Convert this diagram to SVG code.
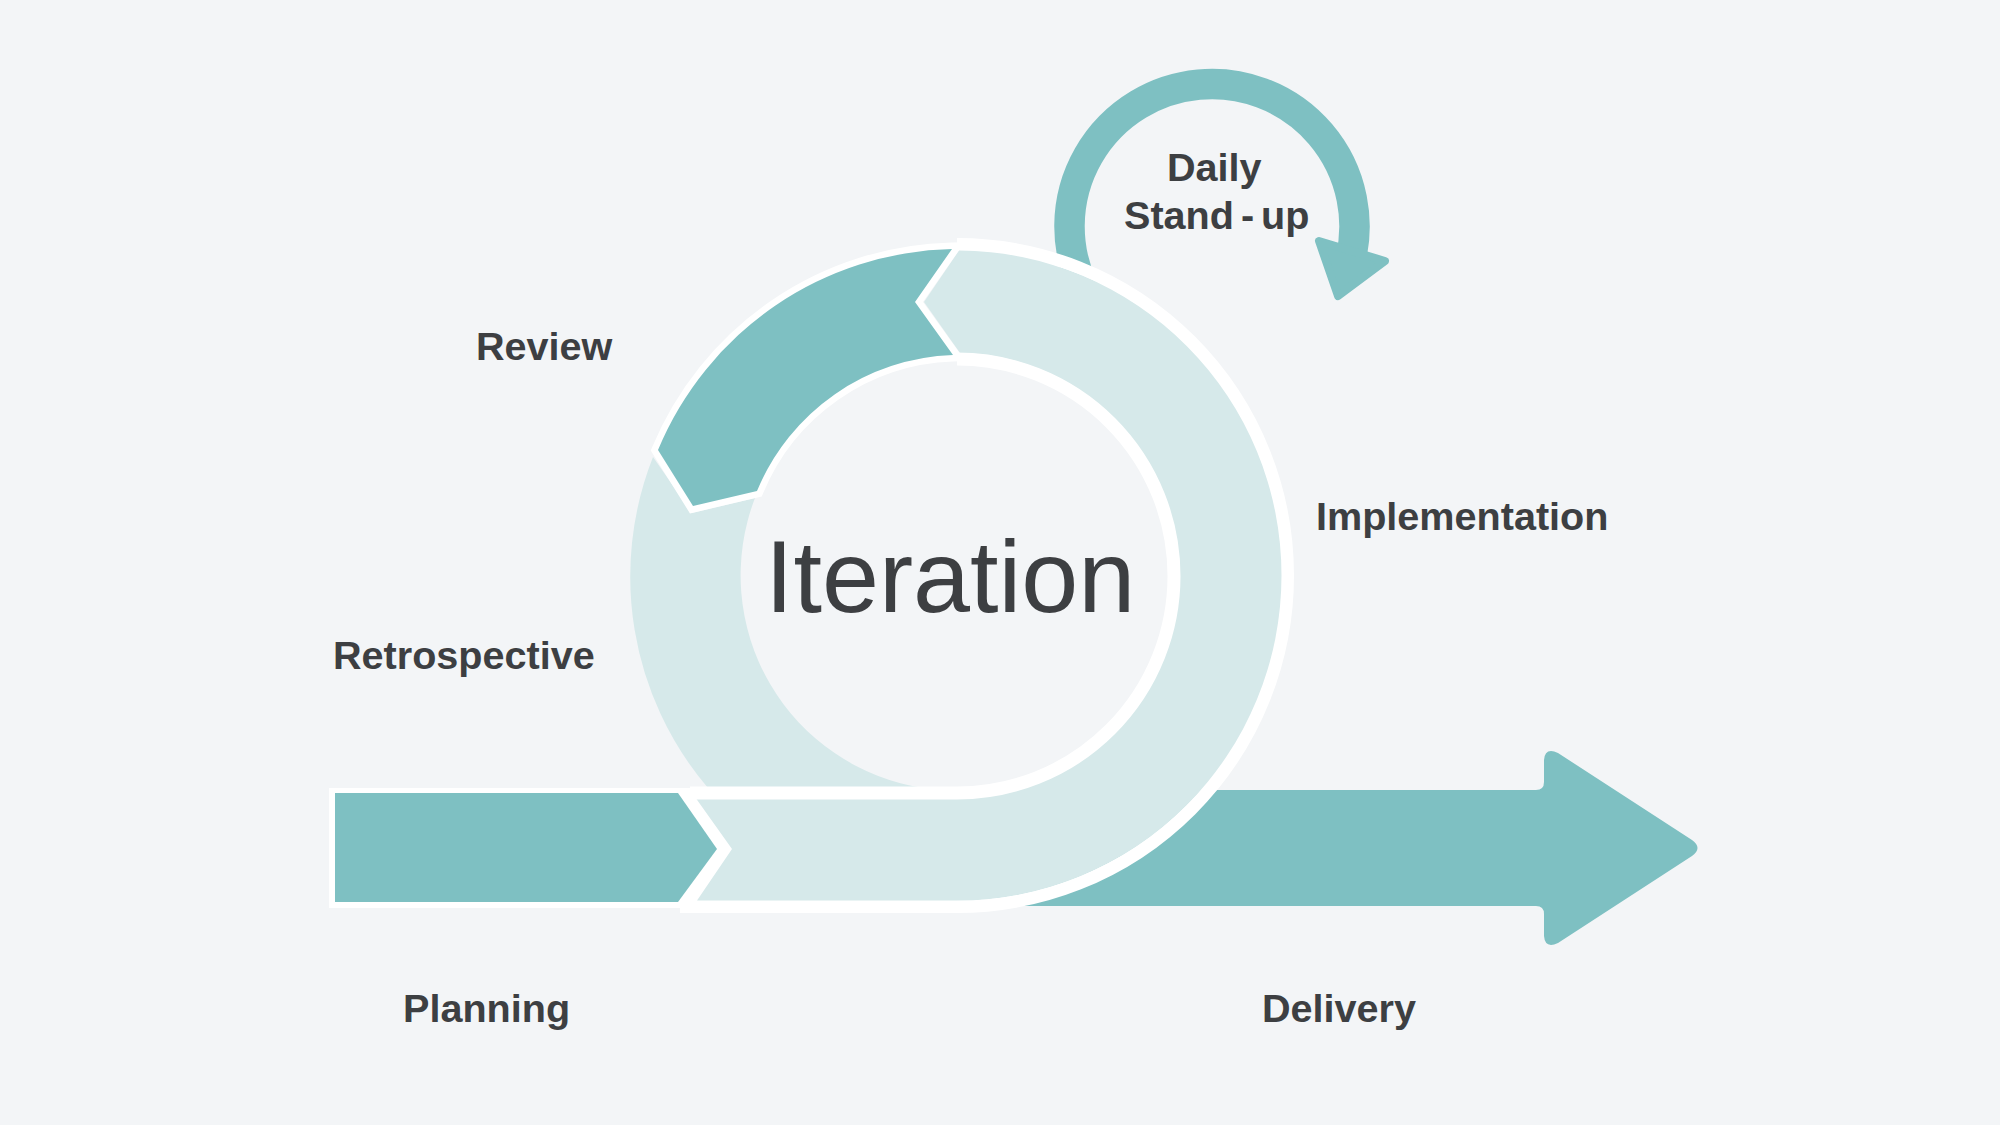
<svg xmlns="http://www.w3.org/2000/svg" width="2000" height="1125" viewBox="0 0 2000 1125">
<style>
.dark{fill:#7ec0c2}
.light{fill:#d6e9ea}
.wl{fill:none;stroke:#fff;stroke-width:13}
.t{font-family:"Liberation Sans",Arial,sans-serif;font-weight:700;font-size:39.6px;fill:#3d3f42}
.big{font-family:"Liberation Sans",Arial,sans-serif;font-size:102.500px;fill:#3d3f42}
</style>
<rect width="2000" height="1125" fill="#f3f5f7"/>
<g id="delivery-arrow"><path class="dark" d="M960,790 L1536,790 Q1544,790 1544,782 L1544,760 Q1545,747 1558,753 L1692,840 Q1703,848 1692,856 L1558,943 Q1545,949 1544,936 L1544,914 Q1544,906 1536,906 L960,906 Z"/></g>
<g id="standup-arrow">
<path d="M1083,287 A142.500,142.500 0 1 1 1350,262" fill="none" stroke="#7ec0c2" stroke-width="30.500"/>
<polygon class="dark" points="1319,241 1385,261 1338,296" stroke="#7ec0c2" stroke-width="8" stroke-linejoin="round"/>
</g>
<g id="iteration-ring">
<path class="wl" d="M957,244.500 A330.500,331 0 0 1 1287.500,575.500 A330.500,331 0 0 1 957,906.500 L680,906.500"/>
<polygon fill="#fff" points="329,788 700,788 740,849 700,908 329,908"/>
<path class="light" d="M653,457 L692,513 L755,498 A215,215 0 0 0 924,788 L708,788 A326,326 0 0 1 653,457 Z"/>
<path class="light" d="M959,250.5 A324.500,325 0 0 1 1281.500,575.500 A324.500,325 0 0 1 957,900.5 L697,900.5 L732,849 L695,797 L957,797 A221,221 0 0 0 1178,576 A221,221 0 0 0 960,353 L924,302 Z"/>
<path class="wl" d="M957,359 A217,217 0 0 1 1174,576 A217,217 0 0 1 957,793 L690,793"/>
</g>
<g id="planning"><polygon class="dark" points="335,793 678,793 717,849 678,902 335,902"/></g>
<g id="review"><path class="dark" d="M952,249 L915,302 L953,355 A220,220 0 0 0 757,491 L693,506 L658,450 A326,326 0 0 1 952,249 Z" stroke="#fff" stroke-width="13" paint-order="stroke"/></g>
<g id="labels">
<text class="t" x="476" y="360">Review</text>
<text class="t" x="1316" y="530">Implementation</text>
<text class="t" x="333" y="669">Retrospective</text>
<text class="t" x="403" y="1022">Planning</text>
<text class="t" x="1262" y="1022">Delivery</text>
<text class="t" x="1167" y="181">Daily</text>
<text class="t" x="1124" y="229" word-spacing="-4">Stand - up</text>
<text class="big" x="765" y="612">Iteration</text>
</g>
</svg>
